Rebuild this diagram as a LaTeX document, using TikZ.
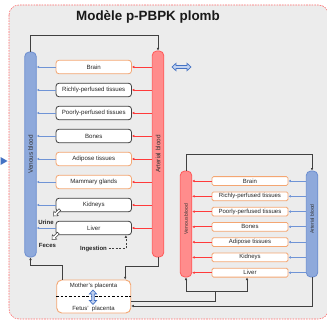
\documentclass[tikz,border=0pt]{standalone}
\usepackage{fontspec}
\setmainfont{Liberation Sans}
\usetikzlibrary{arrows.meta,calc}
\definecolor{bgray}{HTML}{ECECEC}
\definecolor{dred}{HTML}{FF6B6B}
\definecolor{vblue}{HTML}{8EA9DB}
\definecolor{vblueb}{HTML}{6C8ED0}
\definecolor{ared}{HTML}{FF8C8C}
\definecolor{aredb}{HTML}{FF5A5A}
\definecolor{orgor}{HTML}{F4A672}
\definecolor{orggr}{HTML}{3F3F3F}
\definecolor{arrred}{HTML}{FF3A3A}
\definecolor{arrblue}{HTML}{6F94D6}
\definecolor{dblue}{HTML}{4472C4}
\definecolor{lblue}{HTML}{C3D3F0}
\definecolor{conncol}{HTML}{404040}
\begin{document}
\begin{tikzpicture}[x=1pt,y=-1pt,
  vbarb/.style={draw=vblueb, fill=vblue, line width=0.8pt, rounded corners=4.5pt, minimum width=11.5pt, inner sep=0pt},
  abarr/.style={draw=aredb, fill=ared, line width=0.8pt, rounded corners=4.5pt, minimum width=11.5pt, inner sep=0pt},
  bartxt/.style={rotate=90, font=\fontsize{6.4}{7}\selectfont, text=black!80, inner sep=0pt},
  fbartxt/.style={rotate=90, font=\fontsize{5}{6}\selectfont, text=black!80, inner sep=0pt},
  morg/.style={fill=white, line width=0.8pt, rounded corners=3pt, minimum width=75.5pt, minimum height=13.5pt, inner sep=0pt, font=\fontsize{6.1}{7}\selectfont, text=black!85},
  forg/.style={fill=white, draw=orgor, line width=0.8pt, rounded corners=1.5pt, minimum width=76pt, minimum height=8.8pt, inner sep=0pt, font=\fontsize{6}{7}\selectfont, text=black!85},
  redarr/.style={draw=arrred, line width=0.7pt, -{Latex[length=2.4pt,width=2.6pt]}},
  bluearr/.style={draw=arrblue, line width=0.7pt, -{Latex[length=2.4pt,width=2.6pt]}},
  conn/.style={draw=conncol, line width=0.8pt, -{Latex[length=2.6pt,width=2.6pt]}},
  connplain/.style={draw=conncol, line width=0.8pt},
  blockarrow/.style={draw=conncol, fill=white, line width=0.5pt, line join=miter},
  dblarr/.style={draw=dblue, fill=lblue, line width=0.7pt, line join=miter},
  smalllab/.style={font=\fontsize{6}{7}\selectfont\bfseries, text=black!85, inner sep=0pt}
]
\clip (0,0) rectangle (327,321);
\fill[white] (0,0) rectangle (327,321);
% outer frame
\draw[draw=dred, fill=bgray, line width=0.6pt, dash pattern=on 1.6pt off 1.1pt, rounded corners=10pt] (9,5) rectangle (328.5,319);
% left triangle
\fill[dblue] (0.5,157) -- (7.5,161) -- (0.5,165) -- cycle;
% title
\node[font=\fontsize{13.4}{16}\selectfont\bfseries, text=black!90] (title) at (148,17) {Modèle p-PBPK plomb};

% ---------- mother ----------
\node[vbarb, minimum height=205pt] (mv) at (30.5,154.5) {};
\node[bartxt] (mvt) at (mv) {Venous blood};
\node[abarr, minimum height=206pt] (ma) at (158,154) {};
\node[bartxt] (mat) at (ma) {Arterial blood};

\node[morg, draw=orgor] (mbrain) at (93.75,67) {Brain};
\node[morg, draw=orggr] (mrich) at (93.75,90) {Richly-perfused tissues};
\node[morg, draw=orggr] (mpoor) at (93.75,113) {Poorly-perfused tissues};
\node[morg, draw=orggr] (mbones) at (93.75,136) {Bones};
\node[morg, draw=orgor] (madip) at (93.75,159) {Adipose tissues};
\node[morg, draw=orgor] (mmam) at (93.75,182) {Mammary glands};
\node[morg, draw=orggr] (mkid) at (93.75,205) {Kidneys};
\node[morg, draw=orggr] (mliv) at (93.75,228) {Liver};

\foreach \n in {mbrain,mrich,mpoor,mbones,madip,mmam,mkid,mliv}{
  \draw[redarr] (ma.west |- \n.east) -- (\n.east);
  \draw[bluearr] (\n.west) -- (mv.east |- \n.west);
}

% top loop
\draw[conn] (mv.north) -- ++(0,-16.5) -| (ma.north);

% exchange arrow
\draw[dblarr] (172,67) -- (176,63.3) -- (176,65.5) -- (187,65.5) -- (187,63.3) -- (191,67) -- (187,70.7) -- (187,68.5) -- (176,68.5) -- (176,70.7) -- cycle;

% urine / feces
\draw[blockarrow, shift={(53.5,216)}, rotate=225] (0,0) -- (-3.6,3.2) -- (-3.6,1.3) -- (-9,1.3) -- (-9,-1.3) -- (-3.6,-1.3) -- (-3.6,-3.2) -- cycle;
\node[smalllab] (urine) at (46,222.5) {Urine};
\draw[blockarrow, shift={(52,239.5)}, rotate=225] (0,0) -- (-3.6,3.2) -- (-3.6,1.3) -- (-9,1.3) -- (-9,-1.3) -- (-3.6,-1.3) -- (-3.6,-3.2) -- cycle;
\node[smalllab] (feces) at (47.5,245) {Feces};

% ingestion
\node[smalllab] (ing) at (93.5,248.5) {Ingestion};
\draw[connplain, dashed, dash pattern=on 2pt off 1.5pt, -{Latex[length=2.6pt,width=2.6pt]}] ([xshift=1.5pt]ing.east) -| ([xshift=-6pt]mliv.south east);

% placenta
\node[draw=orgor, fill=white, line width=0.9pt, rounded corners=5pt, minimum width=74pt, minimum height=33pt, inner sep=0pt] (mp) at (93.75,296.5) {};
\node[font=\fontsize{6}{7}\selectfont, text=black!85, inner sep=0pt] (mpt) at (93.5,286) {Mother's placenta};
\node[font=\fontsize{6}{7}\selectfont, text=black!85, inner sep=0pt] (fpt) at (93.5,309) {Fetus'\ \ placenta};
\draw[black, line width=0.7pt, dash pattern=on 2.5pt off 1.8pt] (mp.west) ++(0,0.3) -- ([yshift=-0.3pt]mp.east);
\draw[dblarr] (93,290) -- (96.6,294) -- (94.3,294) -- (94.3,300.5) -- (96.6,300.5) -- (93,304.5) -- (89.4,300.5) -- (91.7,300.5) -- (91.7,294) -- (89.4,294) -- cycle;

\draw[conn] ([xshift=6.5pt]mp.north west) -- ++(0,-14) -| (mv.south);
\draw[conn] (ma.south) -- ++(0,9) -| ([xshift=-6pt]mp.north east);

% ---------- fetus ----------
\node[abarr, minimum height=106pt] (fv) at (186,224) {};
\node[fbartxt] (fvt) at (186,219) {Venous blood};
\node[vbarb, minimum height=106pt] (fa) at (312,224) {};
\node[fbartxt] (fat) at (312,219) {Arterial blood};

\node[forg] (fbrain) at (250,181) {Brain};
\node[forg] (frich) at (250,196.3) {Richly-perfused tissues};
\node[forg] (fpoor) at (250,211.6) {Poorly-perfused tissues};
\node[forg] (fbones) at (250,226.8) {Bones};
\node[forg] (fadip) at (250,242.1) {Adipose tissues};
\node[forg] (fkid) at (250,257.4) {Kidneys};
\node[forg] (fliv) at (250,272.7) {Liver};

\foreach \n in {fbrain,frich,fpoor,fbones,fadip,fkid,fliv}{
  \draw[bluearr] (fa.west |- \n.east) -- (\n.east);
  \draw[redarr] (\n.west) -- (fv.east |- \n.west);
}

\draw[conn] (fv.north) -- ++(0,-16) -| (fa.north);

% umbilical connections
\draw[connplain] ([yshift=-4.5pt]mp.east) -- ++(84,0) -- ++(0,-10) coordinate (fj);
\draw[conn] (fj) -| (fv.south);
\draw[conn] (fj) -| ([xshift=-3pt]fliv.south);
\draw[conn] (fa.south) |- ([yshift=-9.5pt]mp.east);
\end{tikzpicture}
\end{document}
